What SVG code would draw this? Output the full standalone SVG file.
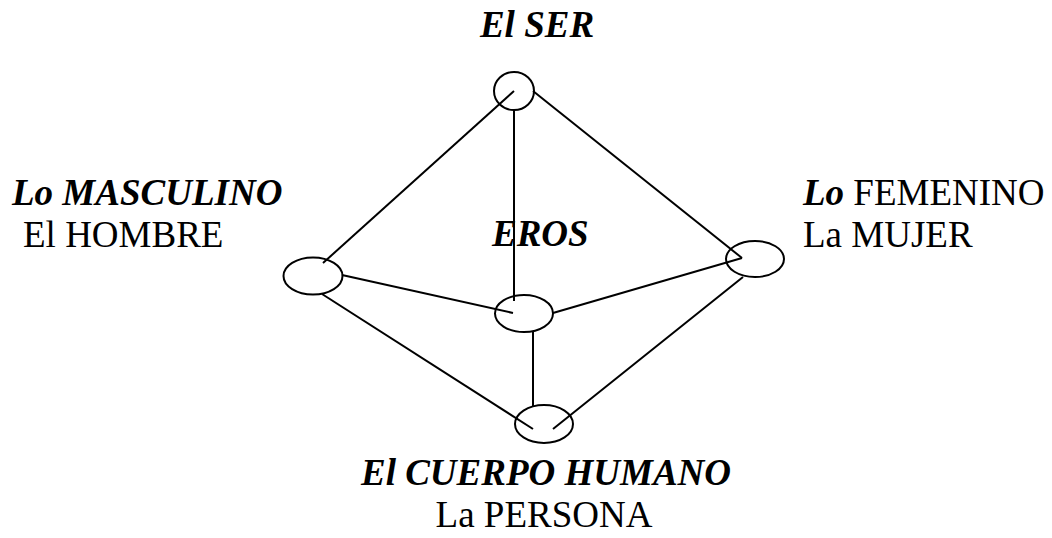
<svg xmlns="http://www.w3.org/2000/svg" width="1052" height="538" viewBox="0 0 1052 538">
<style>
.n{fill:none;stroke:#000;stroke-width:2}
.c line{stroke:#000;stroke-width:2}
text{font-family:"Liberation Serif","Times New Roman",serif;font-size:37px;fill:#000}
.bi{font-weight:bold;font-style:italic}
</style>
<rect width="1052" height="538" fill="#fff"/>
<g class="c" id="connectors">
<line x1="514" y1="91" x2="323" y2="263"/>
<line x1="514" y1="110" x2="514" y2="301"/>
<line x1="533" y1="91" x2="742" y2="258"/>
<line x1="342" y1="275" x2="513" y2="313"/>
<line x1="322" y1="294" x2="533" y2="429"/>
<line x1="553" y1="313" x2="742" y2="258"/>
<line x1="533" y1="332" x2="533" y2="406"/>
<line x1="743" y1="277" x2="553" y2="429"/>
</g>
<g id="ser"><ellipse class="n" cx="514" cy="91" rx="20" ry="19"/><text class="bi" x="537" y="37" text-anchor="middle">El SER</text></g>
<g id="masculino"><ellipse class="n" cx="313" cy="276" rx="29.5" ry="18.5"/><text x="12" y="205"><tspan class="bi">Lo MASCULINO</tspan></text><text x="23" y="247">El HOMBRE</text></g>
<g id="eros"><ellipse class="n" cx="524" cy="313.5" rx="29" ry="18.5"/><text class="bi" x="492" y="246">EROS</text></g>
<g id="femenino"><ellipse class="n" cx="755" cy="259" rx="29" ry="18"/><text x="803" y="205"><tspan class="bi">Lo</tspan> FEMENINO</text><text x="803" y="247">La MUJER</text></g>
<g id="cuerpo"><ellipse class="n" cx="544" cy="424" rx="29" ry="19"/><text class="bi" x="546" y="485" text-anchor="middle">El CUERPO HUMANO</text><text x="544" y="527" text-anchor="middle">La PERSONA</text></g>
</svg>
